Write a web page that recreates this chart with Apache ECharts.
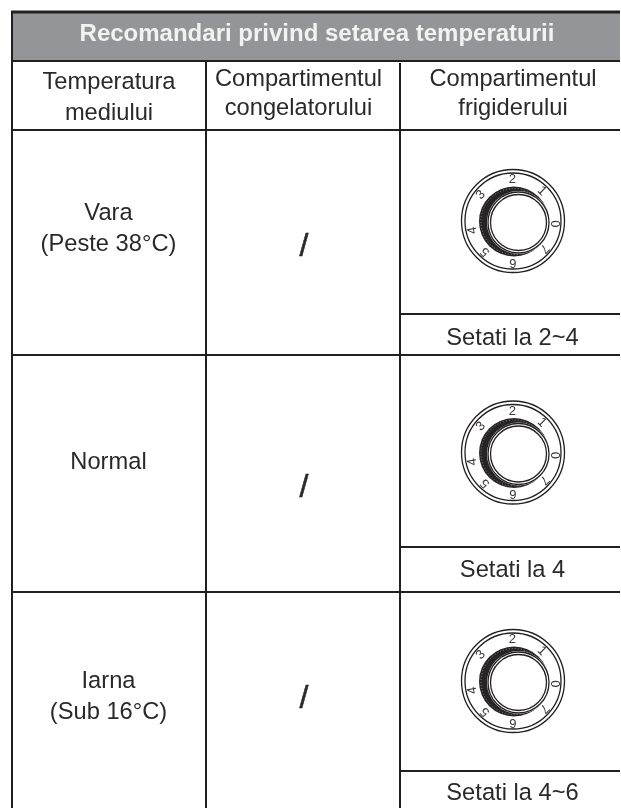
<!DOCTYPE html>
<html><head><meta charset="utf-8">
<style>html,body{margin:0;padding:0;background:#fff}#c{width:621px;height:808px}</style>
<script src="https://cdn.jsdelivr.net/npm/echarts@6/dist/echarts.min.js"></script>
</head><body><div id="c"></div>
<script>
const title = 'Recomandari privind setarea temperaturii';
const columnHeads = ['Temperatura\nmediului', 'Compartimentul\ncongelatorului', 'Compartimentul\nfrigiderului'];
const seasons = ['Vara\n(Peste 38°C)', 'Normal', 'Iarna\n(Sub 16°C)'];
const freezerValues = ['/', '/', '/'];
const settings = ['Setati la 2~4', 'Setati la 4', 'Setati la 4~6'];
const dialLabels = ['0', '1', '2', '3', '4', '5', '6', '7'];
const dialLabelAngles = [-4, 46, 91, 141, 193, 228, 270, -41];
const dialLabelRotations = [-90, -45, 0, 45, 100, 135, 180, -135];

// layout (pixels on the hidden full-page axes)
const colX = [12, 206, 400, 620];
const headY = [12, 61, 130];
const rowY = [355, 592, 808];
const settingY = [314, 547, 771];
const dialY = [221, 452.5, 681];
const INK = '#231f20', TXT = '#2b2a2b', FONT = '"Liberation Sans", Arial, sans-serif';
const BODY = 23.7;

const items = [];
const rect = (x, y, w, h, fill) => items.push({k:'rect', x, y, w, h, fill});
const rule = (x1, y1, x2, y2, lw) => items.push({k:'line', x1, y1, x2, y2, lw: lw || 2});
const txt = (x, y, text, size, opt) => items.push(Object.assign({k:'text', x, y, text, size}, opt));
const circ = (x, y, r, o) => items.push(Object.assign({k:'circle', x, y, r}, o));

rect(colX[0], headY[0], colX[3] - colX[0], headY[1] - headY[0], '#939598');
rule(colX[0] - 1, headY[0], colX[3], headY[0], 3);
rule(colX[0] - 1, headY[1], colX[3], headY[1], 2);
rule(colX[0], headY[2], colX[3], headY[2], 2);
rule(colX[0], headY[0], colX[0], 808, 2);
rule(colX[1], headY[1], colX[1], 808, 2);
rule(colX[2], headY[1] + 2, colX[2], 808, 2);
rowY.slice(0, 2).forEach(y => rule(colX[0], y, colX[3], y, 2));
settingY.forEach(y => rule(colX[2], y, colX[3], y, 2));

txt(317, 34, title, 24, {bold: true, fill: '#f2f2f2'});
const heads = [[109, 97.5, 31], [298.5, 94, 29], [513, 94, 29]];
columnHeads.forEach((h, i) => txt(heads[i][0], heads[i][1], h, BODY, {lh: heads[i][2]}));
const seasonY = [229, 462.5, 697];
seasons.forEach((s, i) => txt(108.5, seasonY[i], s, BODY, {lh: 30.5}));
const slashY = [247, 488, 699.5];
freezerValues.forEach((s, i) => txt(304, slashY[i], s, 32, {strokeW: 0.6}));
const settingTextY = [338, 570, 793];
settings.forEach((s, i) => txt(512.5, settingTextY[i], s, BODY, {}));

dialY.forEach(cy => {
  const cx = 513;
  circ(cx, cy, 51.5, {stroke: INK, lw: 1.3});
  circ(cx, cy, 48, {stroke: INK, lw: 1.3});
  circ(cx + 1, cy + 0.5, 35, {fill: '#262425'});
  circ(cx + 1, cy + 0.5, 33, {stroke: '#8a8889', lw: 1, dash: [1, 2]});
  circ(cx + 5.5, cy + 1.5, 31.5, {fill: '#fff'});
  circ(cx + 5.5, cy + 1.5, 30.5, {stroke: INK, lw: 1.3});
  circ(cx + 5.5, cy + 1.5, 28, {stroke: INK, lw: 1.3});
  dialLabels.forEach((d, i) => {
    const a = dialLabelAngles[i] * Math.PI / 180;
    txt(cx + 41.5 * Math.cos(a), cy - 41.5 * Math.sin(a), d, 13, {rot: dialLabelRotations[i], fill: '#3a3839'});
  });
});

function renderItem(params, api) {
  const it = items[api.value(0)];
  if (it.k === 'rect') {
    const p = api.coord([it.x, it.y]), q = api.coord([it.x + it.w, it.y + it.h]);
    return {type: 'rect', shape: {x: p[0], y: p[1], width: q[0] - p[0], height: q[1] - p[1]}, style: {fill: it.fill}};
  }
  if (it.k === 'line') {
    const p = api.coord([it.x1, it.y1]), q = api.coord([it.x2, it.y2]);
    return {type: 'line', shape: {x1: p[0], y1: p[1], x2: q[0], y2: q[1]}, style: {stroke: INK, lineWidth: it.lw}};
  }
  if (it.k === 'circle') {
    const p = api.coord([it.x, it.y]);
    return {type: 'circle', shape: {cx: p[0], cy: p[1], r: it.r},
      style: {fill: it.fill || 'none', stroke: it.stroke || 'none', lineWidth: it.lw || 0, lineDash: it.dash || null}};
  }
  const p = api.coord([it.x, it.y]);
  const style = {text: it.text, fill: it.fill || TXT, align: 'center', verticalAlign: 'middle',
      font: (it.bold ? 'bold ' : '') + it.size + 'px ' + FONT, lineHeight: it.lh || it.size * 1.2};
  if (it.strokeW) { style.stroke = it.fill || TXT; style.lineWidth = it.strokeW; }
  return {type: 'text', x: p[0], y: p[1], rotation: (it.rot || 0) * Math.PI / 180, style};
}

const chart = echarts.init(document.getElementById('c'), null, {renderer: 'canvas'});
chart.setOption({
  animation: false,
  backgroundColor: '#fff',
  grid: {left: 0, right: 0, top: 0, bottom: 0},
  xAxis: {type: 'value', min: 0, max: 621, show: false},
  yAxis: {type: 'value', min: 0, max: 808, inverse: true, show: false},
  tooltip: {show: false},
  series: [{type: 'custom', renderItem, clip: false, silent: true,
    encode: {x: 0, y: 0}, data: items.map((_, i) => [i])}]
});
</script></body></html>
